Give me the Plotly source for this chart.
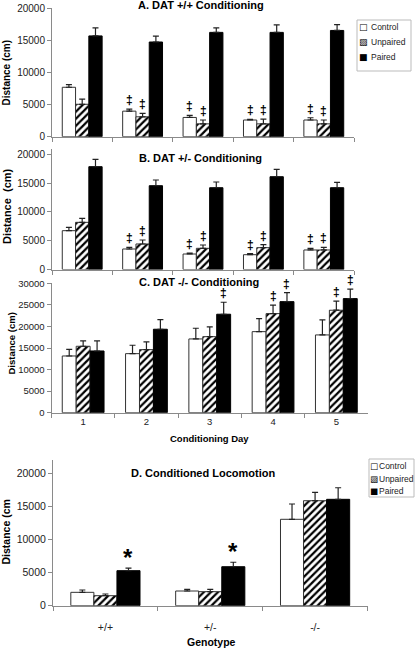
import plotly.graph_objects as go

W, H = 415, 648
FONT = "Liberation Sans, Arial, sans-serif"

# ---------------- data ----------------
days = ["1", "2", "3", "4", "5"]
genotypes = ["+/+", "+/-", "-/-"]
group_names = ["Control", "Unpaired", "Paired"]

# A. DAT +/+ conditioning (mean, SEM)
a_control = [7700, 3980, 3000, 2600, 2600]
a_control_sem = [400, 310, 320, 100, 350]
a_unpaired = [5050, 3100, 2000, 2000, 2000]
a_unpaired_sem = [800, 530, 600, 750, 600]
a_paired = [15700, 14750, 16250, 16250, 16550]
a_paired_sem = [1260, 910, 710, 1180, 920]
a_marks = [[0, 1, 1, 1, 1], [0, 1, 1, 1, 1], [0, 0, 0, 0, 0]]

# B. DAT +/- conditioning
b_control = [6740, 3560, 2690, 2570, 3390]
b_control_sem = [590, 290, 170, 170, 290]
b_unpaired = [8190, 4430, 3680, 3790, 3390]
b_unpaired_sem = [700, 690, 570, 520, 460]
b_paired = [17850, 14550, 14200, 16110, 14200]
b_paired_sem = [1280, 990, 990, 1290, 940]
b_marks = [[0, 1, 1, 1, 1], [0, 1, 1, 1, 1], [0, 0, 0, 0, 0]]

# C. DAT -/- conditioning
c_control = [13150, 13690, 17100, 18790, 18030]
c_control_sem = [1550, 1950, 2480, 3020, 3480]
c_unpaired = [15400, 14620, 17630, 22970, 23760]
c_unpaired_sem = [1230, 1780, 2250, 1950, 2090]
c_paired = [14310, 19350, 22830, 25750, 26450]
c_paired_sem = [2320, 2230, 2780, 2090, 2180]
c_marks = [[0, 0, 0, 0, 0], [0, 0, 0, 1, 1], [0, 0, 1, 1, 1]]

# D. Conditioned locomotion
d_control = [2020, 2220, 13050]
d_control_sem = [350, 250, 2310]
d_unpaired = [1510, 2120, 15860]
d_unpaired_sem = [260, 350, 1270]
d_paired = [5290, 5890, 16070]
d_paired_sem = [400, 670, 1750]
d_marks = [[0, 0, 0], [0, 0, 0], [1, 1, 0]]

# ---------------- helpers ----------------
def fx(px):
    return px / W

def fy(py):
    return 1 - py / H

BARGAP = 0.34
BAR_W = (1 - BARGAP) / 3
OFFSETS = [-BAR_W, 0.0, BAR_W]

styles = {
    "Control": dict(color="white", line=dict(color="#333", width=1)),
    "Unpaired": dict(color="white", line=dict(color="#333", width=1),
                     pattern=dict(shape="/", fgcolor="black", bgcolor="white",
                                  size=5, solidity=0.45)),
    "Paired": dict(color="black", line=dict(color="black", width=1)),
}

fig = go.Figure()
annotations = []
shapes = []

panels = [
    dict(n="", cats=days, vals=[a_control, a_unpaired, a_paired],
         sems=[a_control_sem, a_unpaired_sem, a_paired_sem], marks=a_marks, sym="‡",
         xdom=(52, 354), y0px=136.7, ymax=20000, ytop_val=20000, ytop_px=8.3,
         title="A. DAT +/+ Conditioning", title_xy=(201, 5),
         ytitle="Distance (cm)", ytitle_xy=(6, 72.5), ytitle_size=10,
         showx=False, tickfs=10),
    dict(n="2", cats=days, vals=[b_control, b_unpaired, b_paired],
         sems=[b_control_sem, b_unpaired_sem, b_paired_sem], marks=b_marks, sym="‡",
         xdom=(52, 354), y0px=269.5, ymax=21000, ytop_val=20000, ytop_px=154.3,
         title="B. DAT +/- Conditioning", title_xy=(200, 157.5),
         ytitle="Distance  (cm)", ytitle_xy=(7, 206), ytitle_size=11,
         showx=False, tickfs=10),
    dict(n="3", cats=days, vals=[c_control, c_unpaired, c_paired],
         sems=[c_control_sem, c_unpaired_sem, c_paired_sem], marks=c_marks, sym="‡",
         xdom=(51.5, 368), y0px=412.7, ymax=30000, ytop_val=30000, ytop_px=283.3,
         title="C. DAT -/- Conditioning", title_xy=(199, 282.3),
         ytitle="Distance (cm)", ytitle_xy=(11, 343.5), ytitle_size=9.5,
         showx=True, tickfs=9.5),
    dict(n="4", cats=genotypes, vals=[d_control, d_unpaired, d_paired],
         sems=[d_control_sem, d_unpaired_sem, d_paired_sem], marks=d_marks, sym="*",
         xdom=(53, 367.5), y0px=605.7, ymax=22000, ytop_val=20000, ytop_px=473.3,
         title="D. Conditioned Locomotion", title_xy=(203, 473.3),
         ytitle="Distance (cm", ytitle_xy=(5, 532.5), ytitle_size=10.5,
         showx=True, tickfs=10.5),
]

for p in panels:
    n = p["n"]
    xa, ya = "x" + n, "y" + n
    for gi, gname in enumerate(group_names):
        fig.add_trace(go.Bar(
            x=p["cats"], y=p["vals"][gi], name=gname, xaxis=xa, yaxis=ya,
            marker=styles[gname], showlegend=False,
            error_y=dict(type="data", array=p["sems"][gi],
                         arrayminus=[0] * len(p["sems"][gi]), symmetric=False,
                         color="#222", thickness=1.2, width=3),
        ))
        for ci, flag in enumerate(p["marks"][gi]):
            if flag:
                is_star = p["sym"] == "*"
                annotations.append(dict(
                    x=ci + OFFSETS[gi], y=p["vals"][gi][ci] + p["sems"][gi][ci],
                    xref=xa, yref=ya,
                    text=("<b>" + p["sym"] + "</b>"), showarrow=False,
                    xanchor="center", yanchor="middle",
                    yshift=9 if not is_star else 11,
                    font=dict(family=FONT, size=12 if not is_star else 24,
                              color="black"),
                ))
    # domains from pixel geometry
    px_per_val = (p["y0px"] - p["ytop_px"]) / p["ytop_val"]
    top_px = p["y0px"] - p["ymax"] * px_per_val
    ydom = [fy(p["y0px"]), fy(top_px)]
    xdom = [fx(p["xdom"][0]), fx(p["xdom"][1])]
    xkey = "xaxis" + n
    ykey = "yaxis" + n
    fig.layout[xkey] = dict(
        domain=xdom, anchor=ya, type="category", range=[-0.5, len(p["cats"]) - 0.5],
        showline=True, linecolor="#8a8a8a", linewidth=1, ticks="outside",
        tickson="boundaries", ticklen=4, tickcolor="#8a8a8a", showgrid=False,
        zeroline=False, showticklabels=p["showx"], automargin=False,
        tickfont=dict(family=FONT, size=p["tickfs"], color="#222"),
        ticklabelstandoff=(12 if n == "4" else 0), fixedrange=True,
    )
    fig.layout[ykey] = dict(
        domain=ydom, anchor=xa, range=[0, p["ymax"]],
        tickvals=list(range(0, p["ytop_val"] + 1, 5000)), tickformat="d",
        showline=True, linecolor="#8a8a8a", linewidth=1, ticks="outside",
        ticklen=4, tickcolor="#8a8a8a", showgrid=False, zeroline=False,
        tickfont=dict(family=FONT, size=p["tickfs"], color="#222"),
        automargin=False, fixedrange=True,
    )
    # panel title
    annotations.append(dict(
        x=fx(p["title_xy"][0]), y=fy(p["title_xy"][1]), xref="paper", yref="paper",
        text="<b>" + p["title"] + "</b>", showarrow=False,
        xanchor="center", yanchor="middle",
        font=dict(family=FONT, size=11, color="black"),
    ))
    # y-axis title
    annotations.append(dict(
        x=fx(p["ytitle_xy"][0]), y=fy(p["ytitle_xy"][1]), xref="paper", yref="paper",
        text="<b>" + p["ytitle"] + "</b>", showarrow=False, textangle=-90,
        xanchor="center", yanchor="middle",
        font=dict(family=FONT, size=p["ytitle_size"], color="black"),
    ))

# x-axis titles
annotations.append(dict(x=fx(209), y=fy(438), xref="paper", yref="paper",
                        text="<b>Conditioning Day</b>", showarrow=False,
                        xanchor="center", yanchor="middle",
                        font=dict(family=FONT, size=9.5, color="black")))
annotations.append(dict(x=fx(211), y=fy(641.5), xref="paper", yref="paper",
                        text="<b>Genotype</b>", showarrow=False,
                        xanchor="center", yanchor="middle",
                        font=dict(family=FONT, size=10.5, color="black")))

# legends (drawn as text + box)
legend_symbols = ["□", "▨", "■"]

def add_legend(box, sym_x, text_x, ys, fs):
    shapes.append(dict(type="rect", xref="paper", yref="paper",
                       x0=fx(box[0]), x1=fx(box[1]), y0=fy(box[3]), y1=fy(box[2]),
                       line=dict(color="#bbbbbb", width=1), fillcolor="white"))
    for sym, name, yy in zip(legend_symbols, group_names, ys):
        annotations.append(dict(x=fx(sym_x), y=fy(yy), xref="paper", yref="paper",
                                text=sym, showarrow=False, xanchor="center",
                                yanchor="middle",
                                font=dict(family="DejaVu Sans", size=fs, color="black")))
        annotations.append(dict(x=fx(text_x), y=fy(yy), xref="paper", yref="paper",
                                text=name, showarrow=False, xanchor="left",
                                yanchor="middle",
                                font=dict(family=FONT, size=8.5, color="#222")))

add_legend((357, 411, 20, 71), 363.5, 369, [27, 42, 57], 9)
add_legend((369, 414, 459, 497), 373.5, 376.5, [466, 478.5, 491], 8.5)

fig.update_layout(
    template="none",
    width=W, height=H, autosize=False,
    margin=dict(l=0, r=0, t=0, b=0, pad=0, autoexpand=False),
    paper_bgcolor="white", plot_bgcolor="white",
    barmode="group", bargap=BARGAP, bargroupgap=0,
    annotations=annotations, shapes=shapes,
    showlegend=False,
    font=dict(family=FONT, color="#222"),
)

fig.write_html("out.html", config={"displayModeBar": False},
               post_script="document.body.style.margin='0';")
